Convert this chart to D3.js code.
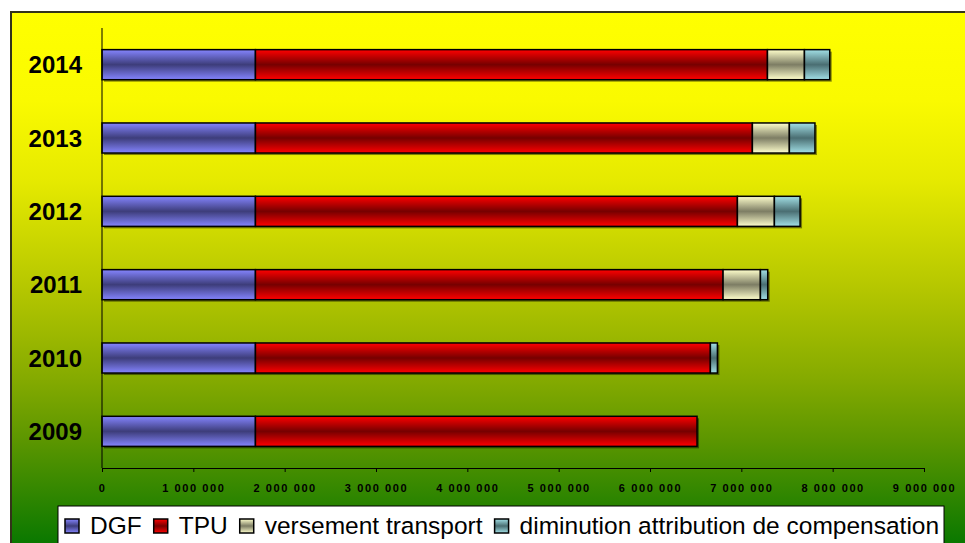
<!DOCTYPE html>
<html lang="fr">
<head>
<meta charset="UTF-8">
<title>DGF / TPU</title>
<style>
  body { margin: 0; background: #fff; }
  svg { display: block; font-family: Arial, "Liberation Sans", sans-serif; }
  .year { font-size: 24px; font-weight: bold; fill: #000; }
  .xaxis text { font-size: 11px; font-weight: bold; letter-spacing: 1.6px; fill: #000; }
  .xaxis path, .xaxis line { stroke: #000; }
  .legend text { font-size: 24.5px; fill: #000; }
</style>
</head>
<body>
<script src="https://d3js.org/d3.v7.min.js"></script>
<script>
  const years = ['2009', '2010', '2011', '2012', '2013', '2014'];
  const dgf = [1680000, 1680000, 1680000, 1680000, 1680000, 1680000];
  const tpu = [4835000, 4981000, 5120000, 5277000, 5441000, 5606000];
  const versement = [0, 0, 409000, 405000, 405000, 405000];
  const diminution = [0, 77000, 80000, 281000, 280000, 277000];
  const seriesNames = ['DGF', 'TPU', 'versement transport', 'diminution attribution de compensation'];
  const xTicks = [0, 1000000, 2000000, 3000000, 4000000, 5000000, 6000000, 7000000, 8000000, 9000000];

  // edge / centre colours of each series gradient
  const colours = [
    ['#8585ff', '#3d3d7a'],
    ['#ff0000', '#760000'],
    ['#ffffcc', '#7d7d64'],
    ['#a2e0e6', '#4a6e72']
  ];

  const width = 965, height = 543;
  const svg = d3.select('body').append('svg').attr('width', width).attr('height', height);
  const defs = svg.append('defs');

  // background gradient yellow -> green
  const bg = defs.append('linearGradient').attr('id', 'bg')
    .attr('gradientUnits', 'userSpaceOnUse')
    .attr('x1', 0).attr('y1', 12).attr('x2', 0).attr('y2', 543);
  [[0, '#ffff00'], [0.166, '#fafa00'], [0.316, '#e6ea00'], [0.524, '#b4c600'],
   [0.693, '#84aa00'], [0.806, '#5c9600'], [1, '#0a7800']].forEach(s => {
    bg.append('stop').attr('offset', s[0]).attr('stop-color', s[1]);
  });

  colours.forEach((c, i) => {
    const g = defs.append('linearGradient').attr('id', 'g' + i)
      .attr('x1', 0).attr('y1', 0).attr('x2', 0).attr('y2', 1);
    g.append('stop').attr('offset', 0).attr('stop-color', c[0]);
    g.append('stop').attr('offset', 0.5).attr('stop-color', c[1]);
    g.append('stop').attr('offset', 1).attr('stop-color', c[0]);
  });

  svg.append('rect')
    .attr('x', 11).attr('y', 12).attr('width', 980).attr('height', 560)
    .attr('fill', 'url(#bg)').attr('stroke', '#33331a').attr('stroke-width', 2);

  const x = d3.scaleLinear().domain([0, 9000000]).range([102, 924]);
  const y = d3.scaleBand().domain(years.slice().reverse()).range([28, 468])
    .paddingInner(0.59).paddingOuter(0.295);

  const rows = years.map((yr, i) => ({ year: yr, values: [dgf[i], tpu[i], versement[i], diminution[i]] }));
  const stack = d3.stack().keys([0, 1, 2, 3]).value((d, k) => d.values[k]);
  const layers = stack(rows);

  // shadows
  svg.append('g').selectAll('rect').data(rows).join('rect')
    .attr('x', x(0) + 2)
    .attr('y', d => y(d.year) + 2)
    .attr('width', d => x(d3.sum(d.values)) - x(0))
    .attr('height', y.bandwidth())
    .attr('fill', '#000').attr('opacity', 0.45);

  svg.append('g').selectAll('g').data(layers).join('g')
    .attr('fill', (d, i) => 'url(#g' + i + ')')
    .selectAll('rect').data(d => d.filter(s => s[1] - s[0] > 0)).join('rect')
    .attr('x', d => x(d[0]))
    .attr('y', d => y(d.data.year))
    .attr('width', d => x(d[1]) - x(d[0]))
    .attr('height', y.bandwidth())
    .attr('stroke', '#000').attr('stroke-width', 1.5);

  // axes
  const fr = d3.formatLocale({ decimal: ',', thousands: ' ', grouping: [3], currency: ['', ' €'] });
  svg.append('g').attr('class', 'xaxis')
    .attr('transform', `translate(0,${468})`)
    .call(d3.axisBottom(x).tickValues(xTicks).tickFormat(fr.format(',')).tickSize(4).tickSizeOuter(0).tickPadding(12));

  svg.append('line')
    .attr('x1', x(0)).attr('x2', x(0)).attr('y1', 28).attr('y2', 468)
    .attr('stroke', '#000');

  svg.append('g').selectAll('text').data(years).join('text')
    .attr('class', 'year')
    .attr('x', 82)
    .attr('y', d => y(d) + y.bandwidth() / 2)
    .attr('dy', '0.36em')
    .attr('text-anchor', 'end')
    .text(d => d);

  // legend
  const lg = svg.append('g').attr('class', 'legend');
  lg.append('rect').attr('x', 58).attr('y', 506).attr('width', 886).attr('height', 60)
    .attr('fill', '#fff').attr('stroke', '#000');
  let lx = 65;
  seriesNames.forEach((name, i) => {
    lg.append('rect').attr('x', lx).attr('y', 519).attr('width', 14).attr('height', 14)
      .attr('fill', 'url(#g' + i + ')').attr('stroke', '#000').attr('stroke-width', 1.5);
    const t = lg.append('text').attr('x', lx + 25).attr('y', 534).text(name);
    lx += 25 + t.node().getComputedTextLength() + 12;
  });
</script>
</body>
</html>
